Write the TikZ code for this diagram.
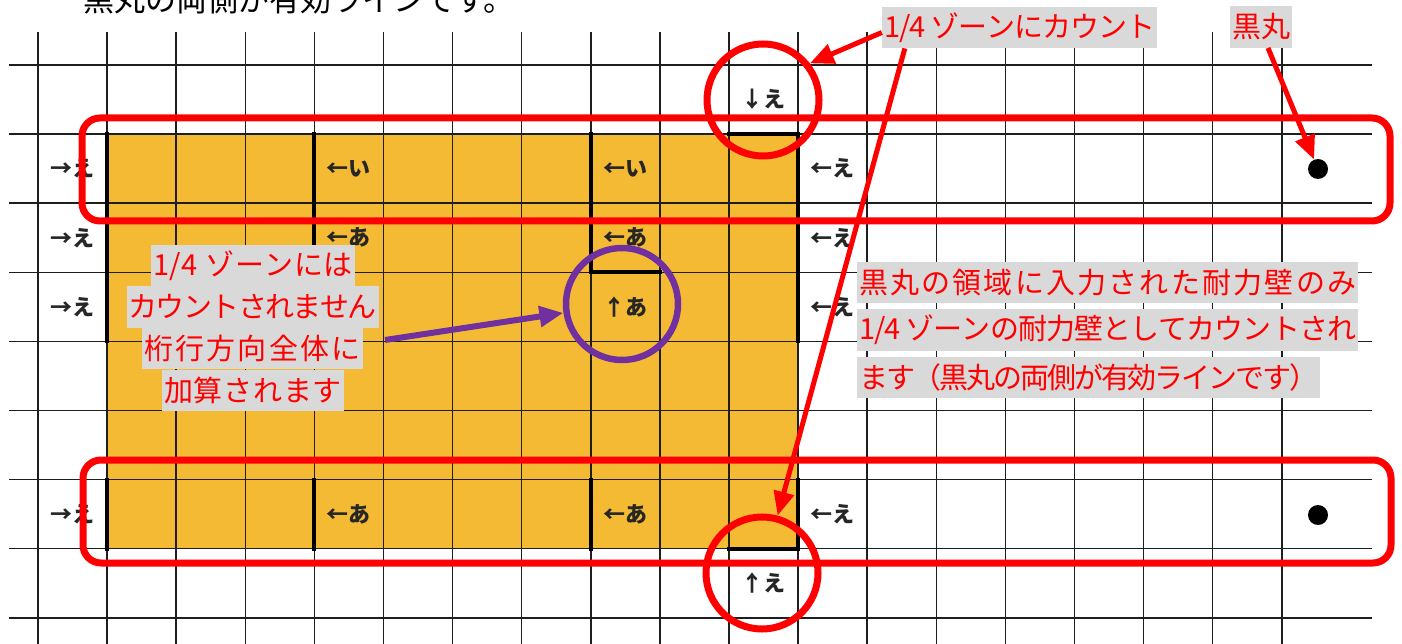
\documentclass[tikz,border=0pt]{standalone}
\usepackage{fontspec}
\newfontfamily\jp{Noto Sans CJK JP}
\usetikzlibrary{arrows.meta}
\definecolor{wallfill}{RGB}{245,186,52}
\definecolor{lblgray}{RGB}{217,217,217}
\definecolor{mypurple}{RGB}{112,48,160}
\definecolor{myred}{RGB}{255,0,0}
\definecolor{gridcol}{RGB}{30,30,30}
\newcommand\spreadchr[1]{\ifx\relax#1\else#1\hskip0pt plus1fil minus1fil\expandafter\spreadchr\fi}
\newcommand\spreadbox[2]{\makebox[#1][s]{\spreadchr#2\relax\unskip}}
\begin{document}
\begin{tikzpicture}[x=1pt,y=-1pt,
  gridline/.style={line width=1.5pt,draw=gridcol},
  wall/.style={line width=4pt,draw=black,line cap=rect,line join=miter},
  celltxt/.style={font=\jp\bfseries\fontsize{22}{22}\selectfont,text=black!85,inner sep=0pt},
  redlbl/.style={fill=lblgray,text=myred,inner xsep=2pt,inner ysep=0pt,minimum height=41.5pt,font=\jp\fontsize{29}{29}\selectfont},
  redring/.style={circle,draw=myred,line width=7pt,minimum size=112pt,inner sep=0pt},
  purplering/.style={circle,draw=mypurple,line width=6.5pt,minimum size=112pt,inner sep=0pt},
  zonebox/.style={draw=myred,line width=7pt,rounded corners=18pt},
  redarrow/.style={draw=myred,line width=5pt,-{Triangle[length=24pt,width=20pt]}},
  purplearrow/.style={draw=mypurple,line width=6pt,-{Triangle[length=24pt,width=20pt]}},
  blackdot/.style={circle,fill=black,minimum size=20pt,inner sep=0pt},
]
\useasboundingbox (0,0) rectangle (1402,644);
\clip (0,0) rectangle (1402,644);

% clipped heading line
\node[anchor=base west,font=\jp\fontsize{31}{31}\selectfont,inner sep=0pt] (toptext) at (83,11.5) {黒丸の両側が有効ラインです。};

% orange area
\fill[wallfill] (107.1,134.1) rectangle (798.1,548.7);

% grid
\foreach \i in {0,...,18} \draw[gridline] ({38+69.1*\i},32) -- ({38+69.1*\i},644);
\foreach \j in {0,...,8} \draw[gridline] (9,{65+69.1*\j}) -- (1372,{65+69.1*\j});

% walls
\draw[wall] (107.1,134.1) -- (107.1,341.4);
\draw[wall] (107.1,479.6) -- (107.1,548.7);
\draw[wall] (314.4,134.1) -- (314.4,272.3);
\draw[wall] (314.4,479.6) -- (314.4,548.7);
\draw[wall] (590.8,134.1) -- (590.8,272.3) -- (659.9,272.3);
\draw[wall] (590.8,479.6) -- (590.8,548.7);
\draw[wall] (729,134.1) -- (798.1,134.1) -- (798.1,341.4);
\draw[wall] (798.1,479.6) -- (798.1,548.7) -- (729,548.7);

% cell labels
\node[celltxt] (t0) at (763.55,99.55) {↓え};
\node[celltxt] (a1) at (72.55,168.65) {→え};
\node[celltxt] (b1) at (348.95,168.65) {←い};
\node[celltxt] (c1) at (625.35,168.65) {←い};
\node[celltxt] (d1) at (832.65,168.65) {←え};
\node[celltxt] (a2) at (72.55,237.75) {→え};
\node[celltxt] (b2) at (348.95,237.75) {←あ};
\node[celltxt] (c2) at (625.35,237.75) {←あ};
\node[celltxt] (d2) at (832.65,237.75) {←え};
\node[celltxt] (a3) at (72.55,306.85) {→え};
\node[celltxt] (c3) at (625.35,306.85) {↑あ};
\node[celltxt] (d3) at (832.65,306.85) {←え};
\node[celltxt] (a6) at (72.55,514.15) {→え};
\node[celltxt] (b6) at (348.95,514.15) {←あ};
\node[celltxt] (c6) at (625.35,514.15) {←あ};
\node[celltxt] (d6) at (832.65,514.15) {←え};
\node[celltxt] (t7) at (763.55,583.25) {↑え};

% black dots
\node[blackdot] (dotA) at (1318,169) {};
\node[blackdot] (dotB) at (1318,515) {};

% zone boxes
\draw[zonebox] (82,118) rectangle (1390,221);
\draw[zonebox] (83,460) rectangle (1391,563);

% rings
\node[redring] (circA) at (763,100) {};
\node[redring] (circB) at (762,573) {};
\node[purplering] (circP) at (622,304) {};

% red labels
\node[redlbl] (lblCount) at (1019.5,27.5) {\spreadbox{271pt}{1/4\ ゾーンにカウント}};
\node[redlbl] (lblKuro) at (1261,27) {\spreadbox{58pt}{黒丸}};

\node[redlbl] (L1) at (253,265.5) {\spreadbox{200pt}{1/4\ ゾーンには}};
\node[redlbl] (L2) at (252.5,307) {\spreadbox{248pt}{カウントされません}};
\node[redlbl] (L3) at (252.5,348.5) {\spreadbox{217pt}{桁行方向全体に}};
\node[redlbl] (L4) at (253,390.5) {\spreadbox{178pt}{加算されます}};

\node[redlbl,anchor=west] (R1) at (857,282.5) {\spreadbox{497pt}{黒丸の領域に入力された耐力壁のみ}};
\node[redlbl,anchor=west] (R2) at (857,330) {\spreadbox{497pt}{1/4\ ゾーンの耐力壁としてカウントされ}};
\node[redlbl,anchor=west] (R3) at (857,377.5) {\spreadbox{459pt}{ます（黒丸の両側が有効ラインです）}};

% arrows
\draw[redarrow] ([yshift=-5pt]lblCount.west) -- (circA.38);
\draw[redarrow] ([xshift=23pt]lblCount.south west) -- (circB);
\draw[redarrow] ([xshift=7pt]lblKuro.south) -- (dotA);
\coordinate (pStart) at (385,340);
\draw[purplearrow] (pStart) -- (circP);
\end{tikzpicture}
\end{document}
